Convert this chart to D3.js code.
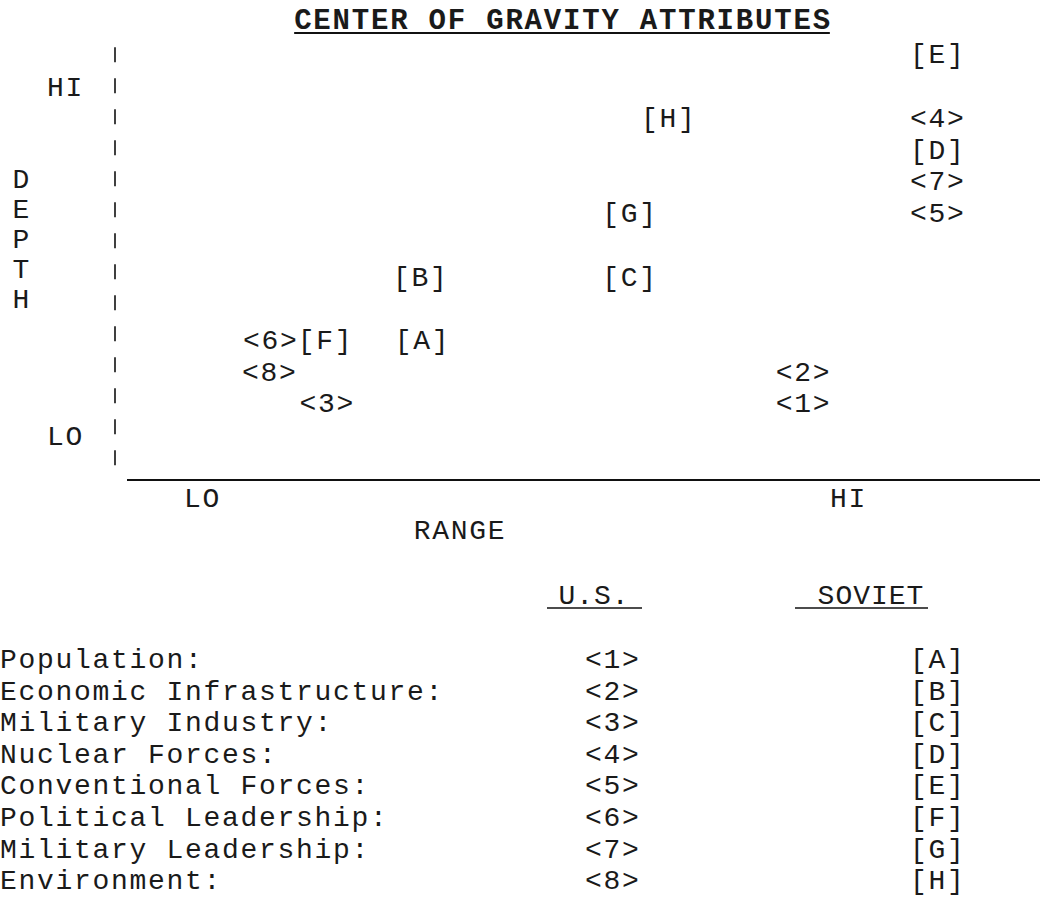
<!DOCTYPE html>
<html>
<head>
<meta charset="utf-8">
<script src="https://cdn.jsdelivr.net/npm/d3@7"></script>
<style>
  html, body { margin: 0; padding: 0; background: #fff; }
  svg text { font-family: "Courier New", "Liberation Mono", monospace; fill: #1a1a1a; }
</style>
</head>
<body>
<div id="chart"></div>
<script>
// center of gravity attributes, depth vs range
const categories = ["Population:", "Economic Infrastructure:", "Military Industry:", "Nuclear Forces:",
    "Conventional Forces:", "Political Leadership:", "Military Leadership:", "Environment:"];
const usLabels = ["<1>", "<2>", "<3>", "<4>", "<5>", "<6>", "<7>", "<8>"];
const usRange = [8.44, 8.44, 2.54, 10.1, 10.1, 1.84, 10.1, 1.83];
const usDepth = [2, 3, 2, 11, 8, 4, 9, 3];
const sovietLabels = ["[A]", "[B]", "[C]", "[D]", "[E]", "[F]", "[G]", "[H]"];
const sovietRange = [3.72, 3.70, 6.29, 10.1, 10.1, 2.52, 6.29, 6.77];
const sovietDepth = [4, 6, 6, 10, 13, 4, 8, 11];
const rangeTicks = [1, 9];
const depthTicks = [1, 12];
const tickNames = { 1: "LO", 9: "HI", 12: "HI" };

const width = 1040, height = 898;
const fs = 28, ls = 1.7;   // typewriter pitch ~18.5px

const svg = d3.select("#chart").append("svg")
    .attr("width", width)
    .attr("height", height);

const x = d3.scaleLinear().domain([1, 9]).range([202, 848]);
const y = d3.scaleLinear().domain([1, 12]).range([436, 87]);
const base = 8.2; // shift from cap-centre to baseline

// title
const title = svg.append("text")
    .attr("x", 563)
    .attr("y", 29)
    .attr("text-anchor", "middle")
    .style("font-size", "29px")
    .style("font-weight", "bold")
    .style("letter-spacing", "1.8px")
    .text("CENTER OF GRAVITY ATTRIBUTES");
const tb = title.node().getBBox();
svg.append("line")
    .attr("x1", tb.x).attr("x2", tb.x + tb.width - 2)
    .attr("y1", 33).attr("y2", 33)
    .attr("stroke", "#111").attr("stroke-width", 2);

// y axis: dashed rule like a typed column of bars
svg.append("line")
    .attr("x1", 115).attr("x2", 115)
    .attr("y1", y(13.25)).attr("y2", y(-0.17))
    .attr("stroke", "#111")
    .attr("stroke-width", 1.6)
    .attr("stroke-dasharray", "15,16");

const yAxis = svg.append("g")
    .attr("transform", "translate(115,0)")
    .call(d3.axisLeft(y).tickValues(depthTicks).tickSize(0).tickPadding(31)
        .tickFormat(d => tickNames[d]));
yAxis.select(".domain").remove();
yAxis.selectAll("text")
    .attr("dy", null)
    .attr("y", base)
    .style("font-size", fs + "px")
    .style("letter-spacing", ls + "px")
    .style("font-family", null);

// DEPTH written downwards, one letter per typed line
svg.append("text")
    .attr("y", 180 + base - 30)
    .attr("text-anchor", "middle")
    .style("font-size", fs + "px")
    .selectAll("tspan")
    .data("DEPTH".split(""))
    .join("tspan")
    .attr("x", 21)
    .attr("dy", 30)
    .text(d => d);

// x axis
svg.append("line")
    .attr("x1", 127).attr("x2", width)
    .attr("y1", 480).attr("y2", 480)
    .attr("stroke", "#111").attr("stroke-width", 2);

const xAxis = svg.append("g")
    .attr("transform", "translate(0,480)")
    .call(d3.axisBottom(x).tickValues(rangeTicks).tickSize(0).tickPadding(0)
        .tickFormat(d => tickNames[d]));
xAxis.select(".domain").remove();
xAxis.selectAll("text")
    .attr("dy", null)
    .attr("y", 19 + base)
    .style("font-size", fs + "px")
    .style("letter-spacing", ls + "px")
    .style("font-family", null);

svg.append("text")
    .attr("x", 460)
    .attr("y", 531 + base)
    .attr("text-anchor", "middle")
    .style("font-size", fs + "px")
    .style("letter-spacing", ls + "px")
    .text("RANGE");

// points: US as <n>, Soviet as [X]
const points = usLabels.map((l, i) => ({ label: l, r: usRange[i], d: usDepth[i] }))
    .concat(sovietLabels.map((l, i) => ({ label: l, r: sovietRange[i], d: sovietDepth[i] })));

svg.append("g")
    .selectAll("text")
    .data(points)
    .join("text")
    .attr("x", d => x(d.r) + ls / 2)
    .attr("y", d => y(d.d) + base)
    .attr("text-anchor", "middle")
    .style("font-size", fs + "px")
    .style("letter-spacing", ls + "px")
    .text(d => d.label);

// key table
const heads = [{ t: "U.S.", cx: 594, x1: 547, x2: 642 }, { t: "SOVIET", cx: 871, x1: 795, x2: 928 }];
heads.forEach(h => {
    svg.append("text")
        .attr("x", h.cx)
        .attr("y", 596 + base)
        .attr("text-anchor", "middle")
        .style("font-size", fs + "px")
        .style("letter-spacing", "1px")
        .text(h.t);
    svg.append("line")
        .attr("x1", h.x1).attr("x2", h.x2)
        .attr("y1", 608).attr("y2", 608)
        .attr("stroke", "#111").attr("stroke-width", 1.6);
});

const rowY = d3.scaleLinear().domain([0, 7]).range([660, 881]);
const rows = svg.append("g")
    .selectAll("g")
    .data(categories)
    .join("g")
    .attr("transform", (d, i) => `translate(0,${rowY(i) + base})`);

rows.append("text")
    .attr("x", 0)
    .style("font-size", fs + "px")
    .style("letter-spacing", ls + "px")
    .text(d => d);
rows.append("text")
    .attr("x", 612 + ls / 2)
    .attr("text-anchor", "middle")
    .style("font-size", fs + "px")
    .style("letter-spacing", ls + "px")
    .text((d, i) => usLabels[i]);
rows.append("text")
    .attr("x", 937 + ls / 2)
    .attr("text-anchor", "middle")
    .style("font-size", fs + "px")
    .style("letter-spacing", ls + "px")
    .text((d, i) => sovietLabels[i]);
</script>
</body>
</html>
